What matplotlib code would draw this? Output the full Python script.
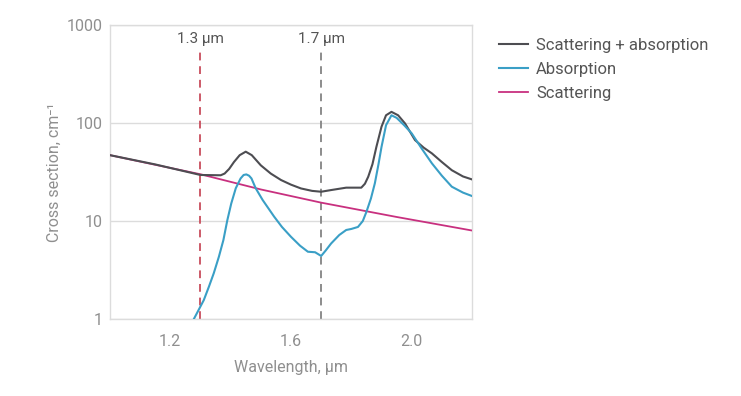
import numpy as np
import matplotlib
matplotlib.use("Agg")
import matplotlib.pyplot as plt
import matplotlib.ticker as mticker

plt.rcParams["font.family"] = ["Roboto", "DejaVu Sans"]

# values (wavelength in um, cross section in cm^-1)
scat_wl = [1.00, 1.15, 1.30, 1.50, 1.70, 1.95, 2.20]
scat_val = [47, 37.5, 30, 21, 15.4, 11, 8.0]

abs_wl = [1.278, 1.294, 1.311, 1.328, 1.344, 1.361, 1.376, 1.389, 1.402, 1.417,
          1.433, 1.443, 1.452, 1.461, 1.469, 1.483, 1.506, 1.544, 1.57, 1.60,
          1.63, 1.656, 1.68, 1.70, 1.715, 1.733, 1.76, 1.783, 1.80, 1.822,
          1.838, 1.85, 1.865, 1.878, 1.89, 1.90, 1.915, 1.933, 1.95, 1.975,
          2.00, 2.033, 2.067, 2.10, 2.133, 2.17, 2.206]
abs_val = [1.0, 1.24, 1.56, 2.14, 2.93, 4.32, 6.4, 10.2, 15.1, 21.6,
           27.2, 29.5, 29.9, 29, 27.2, 21.6, 16.4, 11.1, 8.7, 6.9,
           5.6, 4.86, 4.8, 4.4, 5.0, 5.9, 7.2, 8.1, 8.3, 8.7,
           10, 12.4, 17, 24.3, 38, 57, 95, 120, 113, 95,
           78.5, 55, 38.8, 29, 22.4, 19.5, 17.7]

tot_wl = [1.00, 1.15, 1.30, 1.367, 1.38, 1.395, 1.411, 1.43, 1.45, 1.47,
          1.50, 1.533, 1.567, 1.60, 1.633, 1.67, 1.70, 1.733, 1.783, 1.833,
          1.845, 1.856, 1.87, 1.883, 1.90, 1.915, 1.933, 1.955, 1.978, 2.011,
          2.04, 2.067, 2.10, 2.133, 2.17, 2.206]
tot_val = [47, 37.8, 29.5, 29.3, 30.5, 34, 40, 47, 51, 47,
           37, 30.5, 26.2, 23.5, 21.5, 20.3, 19.9, 20.7, 21.9, 21.9,
           24, 28.3, 38, 57, 91.6, 120, 130, 120, 99, 67,
           56, 49, 40, 33, 28.5, 26.2]

markers_wl = [1.3, 1.7]
markers_txt = ["1.3 \u00b5m", "1.7 \u00b5m"]
markers_col = ["#cc5a68", "#8c8c8c"]

x_ticks = [1.2, 1.6, 2.0]
y_ticks = [1, 10, 100, 1000]

grey_txt = "#8f8f8f"
line_grey = "#dcdcdc"

fig = plt.figure(figsize=(7.41, 3.96), dpi=100, facecolor="white")
ax = fig.add_axes([0.1484, 0.1944, 0.4886, 0.7424])

ax.set_yscale("log")
ax.set_xlim(1.0, 2.2)
ax.set_ylim(1, 1000)

for wl, txt, col in zip(markers_wl, markers_txt, markers_col):
    ax.plot([wl, wl], [1, 530], color=col, lw=1.4, ls=(0, (4, 3)), zorder=2)
    ax.text(wl, 720, txt, ha="center", va="center", fontsize=11,
            color="#555555")

ax.plot(tot_wl, tot_val, color="#4d4d52", lw=1.5, label="Scattering + absorption", zorder=4)
ax.plot(abs_wl, abs_val, color="#3a9fc6", lw=1.5, label="Absorption", zorder=5)
ax.plot(scat_wl, scat_val, color="#c8307f", lw=1.3, label="Scattering", zorder=3)

ax.set_xticks(x_ticks)
ax.xaxis.set_major_formatter(mticker.FormatStrFormatter("%.1f"))
ax.set_yticks(y_ticks)
ax.yaxis.set_major_formatter(mticker.FuncFormatter(lambda v, _: f"{v:g}"))
ax.yaxis.set_minor_locator(mticker.NullLocator())
ax.tick_params(axis="both", length=0, labelsize=11.5, labelcolor=grey_txt)
ax.tick_params(axis="y", pad=5)
ax.tick_params(axis="x", pad=11)

ax.grid(axis="y", color=line_grey, lw=1.0, zorder=0)
for s in ax.spines.values():
    s.set_color(line_grey)
    s.set_linewidth(1.0)

ax.set_xlabel("Wavelength, \u00b5m", fontsize=11.5, color=grey_txt, labelpad=8)
ax.set_ylabel("Cross section, cm\u207b\u00b9", fontsize=11.5, color=grey_txt, labelpad=4)

leg = ax.legend(loc="upper left", bbox_to_anchor=(1.055, 0.98), frameon=False,
                fontsize=12, handlelength=1.75, handletextpad=0.5, labelspacing=0.55,
                borderaxespad=0)
for t in leg.get_texts():
    t.set_color("#555555")

fig.savefig("out.png", dpi=100, facecolor="white")
